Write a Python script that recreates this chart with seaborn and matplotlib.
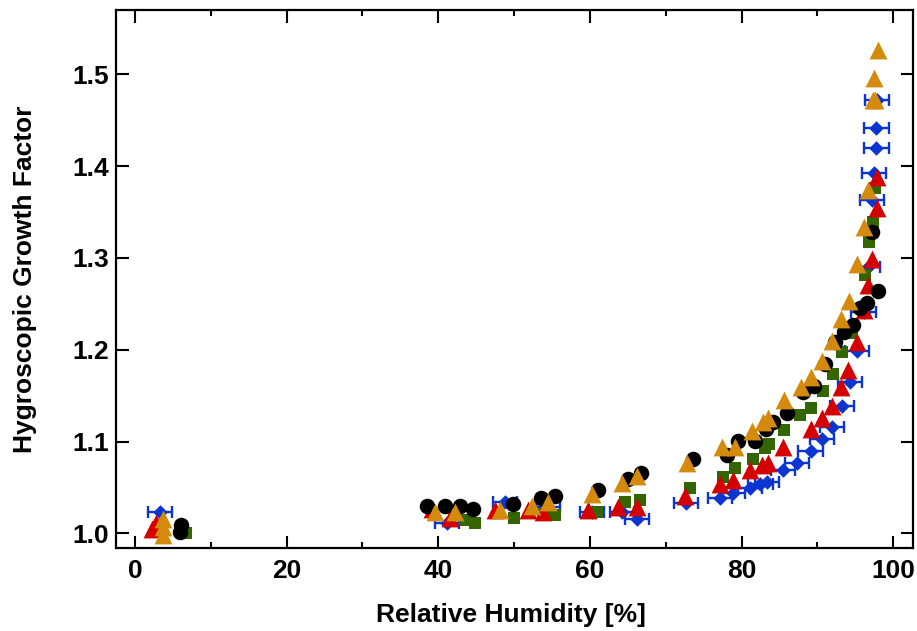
import matplotlib
matplotlib.use("Agg")
import matplotlib.pyplot as plt
import seaborn as sns
import numpy as np
import pandas as pd
from matplotlib.ticker import MultipleLocator

# ---- data ----
black_rh = [6.1, 6.0, 38.5, 40.9, 42.9, 44.6, 49.9, 53.5, 55.4, 61.1, 65.0, 66.8, 73.6,
            78.1, 79.6, 81.8, 83.2, 84.2, 86.0, 88.1, 89.6, 91.0, 92.3, 93.5, 94.7,
            95.6, 96.5, 98.0, 97.2]
black_gf = [1.009, 1.002, 1.030, 1.030, 1.030, 1.026, 1.032, 1.038, 1.041, 1.047, 1.059, 1.066, 1.081,
            1.085, 1.101, 1.101, 1.114, 1.121, 1.131, 1.154, 1.161, 1.185, 1.208, 1.219, 1.227,
            1.245, 1.251, 1.264, 1.328]

green_rh = [6.7, 43.5, 44.9, 50.0, 53.8, 55.4, 61.0, 64.6, 66.6, 73.2, 77.6, 79.2, 81.5,
            83.1, 83.6, 85.6, 87.7, 89.2, 90.8, 92.0, 93.3, 94.6, 96.3, 96.8, 97.4, 97.6]
green_gf = [1.000, 1.015, 1.011, 1.017, 1.021, 1.020, 1.023, 1.034, 1.036, 1.049, 1.061, 1.071, 1.081,
            1.093, 1.097, 1.113, 1.129, 1.136, 1.155, 1.174, 1.197, 1.218, 1.281, 1.317, 1.339, 1.376]

red_rh = [2.2, 2.8, 39.2, 41.6, 47.5, 51.8, 53.8, 59.8, 63.7, 66.2, 72.5, 77.2, 78.9, 81.1,
          82.7, 83.5, 85.5, 89.1, 90.6, 91.9, 93.1, 94.1, 95.2, 96.2, 96.7, 97.2, 97.9, 97.9]
red_gf = [1.005, 1.011, 1.027, 1.017, 1.025, 1.025, 1.023, 1.025, 1.029, 1.029, 1.041, 1.054, 1.058, 1.069,
          1.074, 1.077, 1.094, 1.114, 1.126, 1.139, 1.159, 1.178, 1.208, 1.243, 1.270, 1.299, 1.354, 1.388]

orange_rh = [3.7, 3.7, 3.7, 39.6, 42.2, 48.2, 52.4, 54.5, 60.3, 64.2, 66.2, 72.8, 77.4, 79.2,
             81.4, 82.8, 83.5, 85.6, 87.9, 89.2, 90.6, 91.9, 93.1, 94.2, 95.2, 96.1, 96.7,
             97.4, 97.6, 97.5, 98.0]
orange_gf = [1.016, 1.007, 0.998, 1.023, 1.023, 1.025, 1.030, 1.034, 1.043, 1.055, 1.062, 1.077, 1.094, 1.094,
             1.112, 1.121, 1.126, 1.145, 1.159, 1.170, 1.188, 1.210, 1.233, 1.253, 1.293, 1.334, 1.374,
             1.472, 1.472, 1.496, 1.526]

blue_rh = [3.3, 41.2, 48.8, 54.5, 60.3, 64.2, 66.2, 72.7, 77.2, 78.9, 81.1, 82.5, 83.4, 85.5,
           87.3, 89.1, 90.6, 91.9, 93.3, 94.3, 95.2, 96.1, 96.7, 97.2, 97.5, 97.8, 97.8, 97.9]
blue_gf = [1.023, 1.011, 1.034, 1.029, 1.023, 1.023, 1.016, 1.033, 1.039, 1.044, 1.049, 1.054, 1.056, 1.069,
           1.077, 1.090, 1.103, 1.116, 1.139, 1.165, 1.199, 1.241, 1.290, 1.363, 1.393, 1.420, 1.442, 1.472]
blue_err = 1.6

x_ticks = [0, 20, 40, 60, 80, 100]
y_ticks = [1.0, 1.1, 1.2, 1.3, 1.4, 1.5]

# ---- styling ----
sns.set_style("ticks")
plt.rcParams['font.family'] = ['Liberation Sans', 'DejaVu Sans']
plt.rcParams['font.weight'] = 'bold'
plt.rcParams['text.color'] = 'black'
plt.rcParams['axes.labelcolor'] = 'black'
plt.rcParams['xtick.color'] = 'black'
plt.rcParams['ytick.color'] = 'black'

fig = plt.figure(figsize=(9.17, 6.31), dpi=100)
ax = fig.add_axes([0.1265, 0.1315, 0.869, 0.8525])

C_BLACK = "#000000"
C_GREEN = "#336600"
C_RED = "#d40000"
C_ORANGE = "#d48a0c"
C_BLUE = "#0a35d0"

ax.errorbar(blue_rh, blue_gf, xerr=blue_err, fmt='none', ecolor=C_BLUE,
            elinewidth=1.7, capsize=4.6, capthick=1.7, zorder=2)
sns.scatterplot(x=blue_rh, y=blue_gf, ax=ax, marker='D', s=55, color=C_BLUE,
                edgecolor=C_BLUE, linewidth=0, zorder=3)
sns.scatterplot(x=green_rh, y=green_gf, ax=ax, marker='s', s=78, color=C_GREEN,
                edgecolor=C_GREEN, linewidth=0, zorder=4)
sns.scatterplot(x=red_rh, y=red_gf, ax=ax, marker='^', s=165, color=C_RED,
                edgecolor=C_RED, linewidth=0, zorder=5)
sns.scatterplot(x=black_rh, y=black_gf, ax=ax, marker='o', s=125, color=C_BLACK,
                edgecolor=C_BLACK, linewidth=0, zorder=6)
sns.scatterplot(x=orange_rh, y=orange_gf, ax=ax, marker='^', s=165, color=C_ORANGE,
                edgecolor=C_ORANGE, linewidth=0, zorder=7)

ax.set_xlim(-2.5, 102.6)
ax.set_ylim(0.984, 1.57)
ax.set_xticks(x_ticks)
ax.set_yticks(y_ticks)
ax.set_xticklabels([str(t) for t in x_ticks])
ax.set_yticklabels([f"{t:.1f}" for t in y_ticks])
ax.xaxis.set_minor_locator(MultipleLocator(10))

for s in ax.spines.values():
    s.set_linewidth(1.6)
    s.set_color("black")

ax.tick_params(axis='both', which='major', direction='in', length=9, width=1.5,
               top=True, right=True, labelsize=19, colors='black')
ax.tick_params(axis='x', which='major', pad=8)
ax.tick_params(axis='y', which='major', pad=5)
ax.tick_params(axis='x', which='minor', direction='in', length=4.5, width=1.5,
               top=True, bottom=True)
ax.tick_params(axis='y', which='minor', left=False, right=False)
for lab in ax.get_xticklabels() + ax.get_yticklabels():
    lab.set_fontweight('bold')

ax.set_xlabel("Relative Humidity [%]", fontsize=19, fontweight='bold', va='center')
ax.set_ylabel("Hygroscopic Growth Factor", fontsize=19, fontweight='bold', va='center')
ax.xaxis.set_label_coords(0.495, -0.1245)
ax.yaxis.set_label_coords(-0.114, 0.5)

fig.savefig("out.png", dpi=100)
